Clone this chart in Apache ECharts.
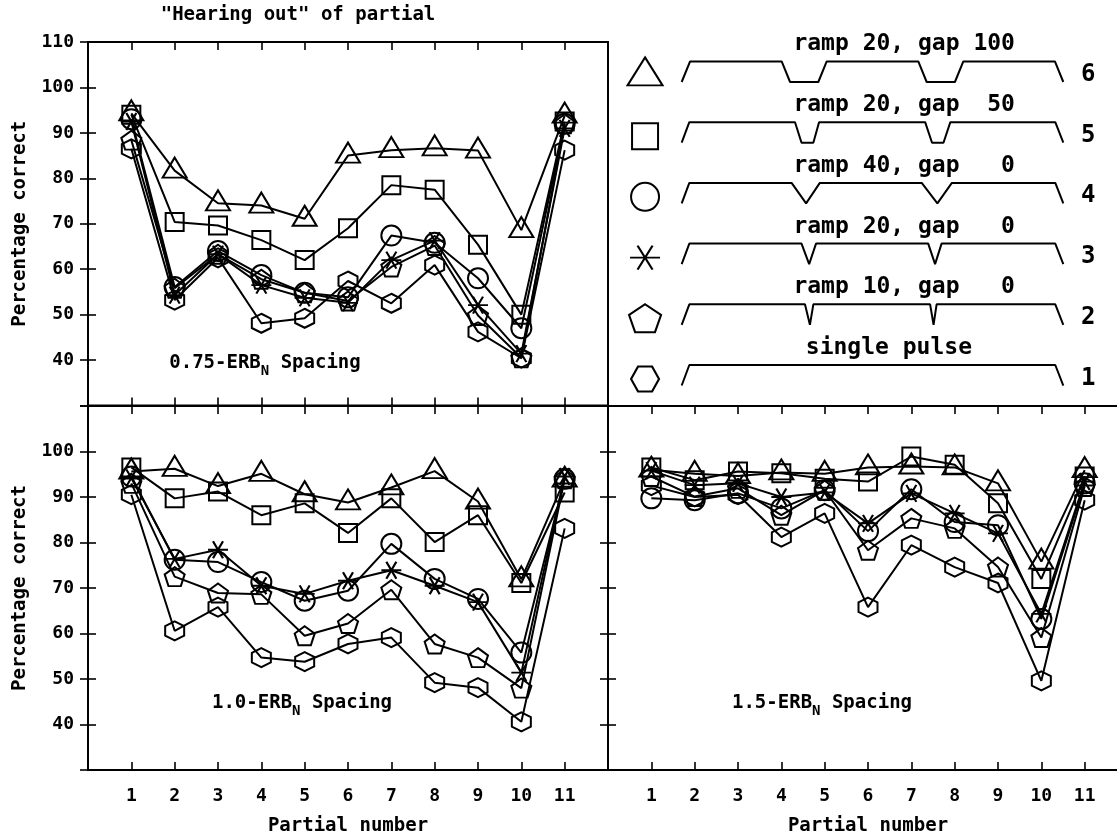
<!DOCTYPE html>
<html>
<head>
<meta charset="utf-8">
<script src="https://cdn.jsdelivr.net/npm/echarts@6/dist/echarts.min.js"></script>
<style>
  html, body { margin: 0; padding: 0; background: #fff; }
  #chart { width: 1117px; height: 834px; }
</style>
</head>
<body>
<div id="chart"></div>
<script>
// Partial numbers on the x axis
const partialNumbers = [1, 2, 3, 4, 5, 6, 7, 8, 9, 10, 11];

// 0.75-ERB_N spacing: percentage correct per stimulus condition
const s075_single = [86.5, 53.2, 62.5, 48.1, 49.2, 57.4, 52.5, 60.9, 46.2, 40.4, 86.2];
const s075_ramp10 = [88.4, 55.8, 63.3, 57.8, 54.8, 53.0, 60.5, 65.2, 49.8, 40.5, 92.0];
const s075_ramp20 = [92.5, 54.3, 63.3, 56.5, 53.7, 52.6, 62.0, 66.3, 52.1, 41.4, 91.0];
const s075_ramp40 = [93.0, 56.1, 64.0, 58.7, 54.8, 53.8, 67.4, 65.8, 58.0, 47.0, 92.0];
const s075_gap50  = [94.0, 70.4, 69.6, 66.4, 62.0, 69.0, 78.5, 77.5, 65.4, 50.0, 92.5];
const s075_gap100 = [94.3, 81.7, 74.5, 74.0, 71.1, 85.0, 86.2, 86.6, 86.1, 68.6, 93.8];

// 1.0-ERB_N spacing
const s100_single = [90.5, 60.6, 65.8, 54.7, 53.8, 57.7, 59.1, 49.2, 48.1, 40.6, 83.1];
const s100_ramp10 = [93.0, 72.5, 68.9, 68.6, 59.5, 62.2, 69.6, 57.7, 54.7, 48.0, 94.0];
const s100_ramp20 = [94.2, 76.4, 78.4, 70.5, 68.7, 71.6, 73.9, 70.5, 66.9, 51.4, 94.5];
const s100_ramp40 = [94.5, 76.2, 75.7, 71.3, 67.2, 69.4, 79.7, 72.0, 67.6, 55.8, 94.0];
const s100_gap50  = [96.5, 89.7, 91.2, 86.0, 88.6, 82.1, 89.7, 80.1, 86.0, 71.1, 91.0];
const s100_gap100 = [95.6, 96.2, 92.4, 95.1, 90.6, 88.8, 92.1, 95.7, 89.0, 71.9, 93.8];

// 1.5-ERB_N spacing
const s150_single = [92.5, 90.0, 90.5, 81.2, 86.4, 65.8, 79.4, 74.6, 71.1, 49.6, 89.3];
const s150_ramp10 = [94.5, 90.1, 91.9, 86.0, 91.5, 78.3, 85.3, 83.1, 74.6, 59.1, 92.3];
const s150_ramp20 = [95.8, 92.6, 93.0, 90.0, 91.0, 84.2, 90.8, 86.4, 82.0, 64.3, 93.4];
const s150_ramp40 = [89.7, 89.3, 90.8, 87.5, 91.5, 82.5, 91.7, 84.5, 83.8, 63.2, 93.0];
const s150_gap50  = [96.5, 93.7, 95.6, 95.2, 94.0, 93.4, 98.9, 97.1, 88.6, 72.0, 94.5];
const s150_gap100 = [96.0, 95.1, 94.6, 95.4, 95.1, 96.5, 96.7, 96.5, 93.0, 75.8, 95.9];

// y-axis tick values (percentage correct)
const yTickValues = [30, 40, 50, 60, 70, 80, 90, 100, 110];

// Stimulus key: condition number, description
const keyNumbers = [1, 2, 3, 4, 5, 6];
const keyTexts = ['single pulse', 'ramp 10, gap   0', 'ramp 20, gap   0',
                  'ramp 40, gap   0', 'ramp 20, gap  50', 'ramp 20, gap 100'];

// Schematic envelopes (time in % of the stimulus, level 1 = on, 0 = off)
const env1_t = [0, 2.0, 97.9, 100];
const env1_l = [0, 1, 1, 0];
const env2_t = [0, 2.0, 32.3, 33.6, 34.5, 65.1, 66.0, 66.8, 97.9, 100];
const env2_l = [0, 1, 1, 0, 1, 1, 0, 1, 1, 0];
const env3_t = [0, 2.0, 31.4, 33.4, 35.2, 64.6, 66.4, 68.1, 97.9, 100];
const env3_l = [0, 1, 1, 0, 1, 1, 0, 1, 1, 0];
const env4_t = [0, 2.0, 28.8, 32.6, 36.2, 62.9, 67.0, 70.8, 97.9, 100];
const env4_l = [0, 1, 1, 0, 1, 1, 0, 1, 1, 0];
const env5_t = [0, 2.0, 29.7, 31.4, 34.5, 36.0, 63.8, 65.6, 68.6, 70.4, 97.9, 100];
const env5_l = [0, 1, 1, 0, 0, 1, 1, 0, 0, 1, 1, 0];
const env6_t = [0, 2.2, 26.2, 28.4, 35.8, 38.0, 62.0, 64.2, 71.6, 73.8, 97.8, 100];
const env6_l = [0, 1, 1, 0, 0, 1, 1, 0, 0, 1, 1, 0];

// ---------- styling / layout ----------
const FONT = '"DejaVu Sans Mono", "Liberation Mono", monospace';
const INK = '#000';

const SYM_STAR = 'path://M-1,0L1,0M-0.5,-0.866L0.5,0.866M0.5,-0.866L-0.5,0.866';
const SYM_PENT = 'path://M0,-1L0.951,-0.309L0.588,0.809L-0.588,0.809L-0.951,-0.309Z';
const SYM_HEX_V = 'path://M0,-1L0.866,-0.5L0.866,0.5L0,1L-0.866,0.5L-0.866,-0.5Z';
const SYM_HEX_H = 'path://M-1,0L-0.5,-0.866L0.5,-0.866L1,0L0.5,0.866L-0.5,0.866Z';

// order: single, ramp10, ramp20, ramp40, gap50, gap100
const markSymbols = [SYM_HEX_V, SYM_PENT, SYM_STAR, 'circle', 'rect', 'triangle'];
const markSizes = [[19, 19], [20, 19], [20, 17], [20, 20], [18, 18], [24, 20]];
const markOffsets = [[0, 0], [0, 0], [0, 0], [0, 0], [0, 0], [0, -3]];
const keySymbols = [SYM_HEX_H, SYM_PENT, SYM_STAR, 'circle', 'rect', 'triangle'];
const keySizes = [[28, 25], [32, 28], [30, 24], [28, 28], [26, 26], [35, 28]];
const keyOffsets = [[0, 0], [0, 0], [0, 0], [0, 0], [0, 0], [0, -4]];

const panels = [
  { grid: { left: 88, top: 42, width: 520, height: 363.5 },
    series: [s075_single, s075_ramp10, s075_ramp20, s075_ramp40, s075_gap50, s075_gap100],
    yLabelMax: 110, yLabels: true, xLabels: false,
    note: ['0.75-ERB', 265, 363] },
  { grid: { left: 88, top: 406, width: 520, height: 364 },
    series: [s100_single, s100_ramp10, s100_ramp20, s100_ramp40, s100_gap50, s100_gap100],
    yLabelMax: 100, yLabels: true, xLabels: true,
    note: ['1.0-ERB', 302, 703] },
  // the right-hand panel runs past the page edge, so its right frame is cut off
  { grid: { left: 608, top: 406, width: 520, height: 364 },
    series: [s150_single, s150_ramp10, s150_ramp20, s150_ramp40, s150_gap50, s150_gap100],
    yLabelMax: 100, yLabels: false, xLabels: true,
    note: ['1.5-ERB', 822, 703] }
];

const grids = [], xAxes = [], yAxes = [], series = [], graphics = [];

const tickStyle = { show: true, inside: true, length: 8, lineStyle: { color: INK, width: 1.6 } };
const labelFont = { color: INK, fontFamily: FONT, fontSize: 18, fontWeight: 'bold' };
const nameFont = { color: INK, fontFamily: FONT, fontSize: 19, fontWeight: 'bold' };

panels.forEach((p, g) => {
  grids.push(Object.assign({
    show: true, borderColor: INK, borderWidth: 2, backgroundColor: 'transparent',
    containLabel: false, outerBoundsMode: 'none'
  }, p.grid));

  const xBase = {
    type: 'value', gridIndex: g, min: 0, max: 12, interval: 1,
    axisLine: { show: false }, splitLine: { show: false }, axisTick: tickStyle
  };
  xAxes.push(Object.assign({}, xBase, {
    position: 'bottom',
    axisLabel: p.xLabels ? Object.assign({
      margin: 17,
      formatter: v => (v >= 1 && v <= 11) ? String(v) : ''
    }, labelFont) : { show: false },
    name: p.xLabels ? 'Partial number' : '',
    nameLocation: 'middle', nameGap: 47,
    nameTextStyle: nameFont
  }));
  xAxes.push(Object.assign({}, xBase, { position: 'top', axisLabel: { show: false } }));

  const yBase = {
    type: 'value', gridIndex: g, min: yTickValues[0], max: yTickValues[yTickValues.length - 1],
    interval: yTickValues[1] - yTickValues[0],
    axisLine: { show: false }, splitLine: { show: false }, axisTick: tickStyle
  };
  yAxes.push(Object.assign({}, yBase, {
    position: 'left',
    axisLabel: p.yLabels ? Object.assign({
      margin: 14,
      formatter: v => (v >= 40 && v <= p.yLabelMax) ? String(v) : ''
    }, labelFont) : { show: false },
    name: p.yLabels ? 'Percentage correct' : '',
    nameLocation: 'middle', nameGap: 58, nameRotate: 90,
    nameTextStyle: nameFont
  }));
  yAxes.push(Object.assign({}, yBase, { position: 'right', axisLabel: { show: false } }));

  p.series.forEach((arr, k) => {
    series.push({
      type: 'line',
      xAxisIndex: 2 * g, yAxisIndex: 2 * g,
      data: partialNumbers.map((x, i) => [x, arr[i]]),
      symbol: markSymbols[k], symbolSize: markSizes[k], symbolOffset: markOffsets[k],
      showAllSymbol: true,
      lineStyle: { color: INK, width: 2 },
      itemStyle: { color: 'transparent', borderColor: INK, borderWidth: 2 },
      emphasis: { disabled: true },
      silent: true, z: 2
    });
  });

  graphics.push({
    type: 'text', x: p.note[1], y: p.note[2], silent: true,
    style: {
      text: '{a|' + p.note[0] + '}{s|N}{a| Spacing}',
      align: 'center', verticalAlign: 'middle',
      rich: {
        a: { fontFamily: FONT, fontSize: 19, fontWeight: 'bold', lineHeight: 30, verticalAlign: 'middle', fill: INK },
        s: { fontFamily: FONT, fontSize: 14, fontWeight: 'bold', lineHeight: 14, verticalAlign: 'bottom', fill: INK }
      }
    }
  });
});

// ---------- stimulus key (upper right) ----------
// x: envelope time axis, y: one unit per condition row (row top = envelope "on" level)
const KEY_GRID = 3;
grids.push({ left: 608, top: 42, width: 509, height: 363, show: false, containLabel: false, outerBoundsMode: 'none' });
xAxes.push({ type: 'value', gridIndex: KEY_GRID, min: -19.31, max: 114.07, show: false });
yAxes.push({ type: 'value', gridIndex: KEY_GRID, min: 0.341, max: 6.321, show: false });
const KEY_AX = xAxes.length - 1;
const KEY_AY = yAxes.length - 1;
const ENV_DEPTH = 0.338;
const KEY_SYM_X = -9.6, KEY_SYM_DY = -0.23;
const KEY_NUM_X = 106.5, KEY_NUM_DY = -0.22;
const KEY_TXT_DY = 0.28;
const keyTextX = [54.3, 58.3, 58.3, 58.3, 58.3, 58.3];

const envT = [env1_t, env2_t, env3_t, env4_t, env5_t, env6_t];
const envL = [env1_l, env2_l, env3_l, env4_l, env5_l, env6_l];

keyNumbers.forEach((row, k) => {
  series.push({
    type: 'line', xAxisIndex: KEY_AX, yAxisIndex: KEY_AY,
    data: envT[k].map((t, i) => [t, row - (1 - envL[k][i]) * ENV_DEPTH]),
    symbol: 'none', lineStyle: { color: INK, width: 2 },
    silent: true, emphasis: { disabled: true }
  });
  series.push({
    type: 'scatter', xAxisIndex: KEY_AX, yAxisIndex: KEY_AY,
    data: [[KEY_SYM_X, row + KEY_SYM_DY]],
    symbol: keySymbols[k], symbolSize: keySizes[k], symbolOffset: keyOffsets[k],
    itemStyle: { color: 'transparent', borderColor: INK, borderWidth: 2, opacity: 1 },
    silent: true, emphasis: { disabled: true }
  });
  series.push({
    type: 'scatter', xAxisIndex: KEY_AX, yAxisIndex: KEY_AY,
    data: [
      { value: [keyTextX[k], row + KEY_TXT_DY], label: { formatter: keyTexts[k], fontSize: 23 } },
      { value: [KEY_NUM_X, row + KEY_NUM_DY], label: { formatter: String(row), fontSize: 24 } }
    ],
    symbolSize: 1, itemStyle: { color: 'transparent', opacity: 1 },
    label: { show: true, position: 'inside', color: INK, opacity: 1,
             textBorderWidth: 0, fontFamily: FONT, fontWeight: 'bold' },
    silent: true, emphasis: { disabled: true }
  });
});

graphics.push({
  type: 'text', x: 298, y: 15, silent: true,
  style: { text: '"Hearing out" of partial', align: 'center', verticalAlign: 'middle',
           fontFamily: FONT, fontSize: 19, fontWeight: 'bold', fill: INK }
});

const chart = echarts.init(document.getElementById('chart'), null, { renderer: 'canvas' });
chart.setOption({
  backgroundColor: '#fff',
  animation: false,
  grid: grids,
  xAxis: xAxes,
  yAxis: yAxes,
  series: series,
  graphic: graphics
});
</script>
</body>
</html>
